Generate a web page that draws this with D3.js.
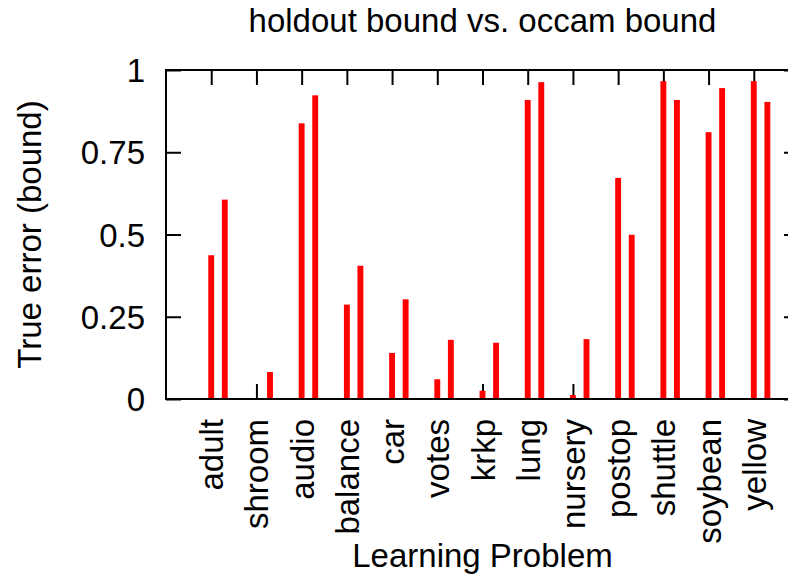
<!DOCTYPE html>
<html>
<head>
<meta charset="utf-8">
<script src="https://cdn.jsdelivr.net/npm/d3@7"></script>
<style>
    html, body { margin: 0; padding: 0; background: #fff; }
    text { font-family: "Liberation Sans", Arial, sans-serif; fill: #000; }
</style>
</head>
<body>
<div class="svg-target"></div>
<script>
// Chart data
const problems = ['adult', 'shroom', 'audio', 'balance', 'car', 'votes', 'krkp',
    'lung', 'nursery', 'postop', 'shuttle', 'soybean', 'yellow'];
const holdoutBound = [0.437, 0, 0.838, 0.287, 0.140, 0.060, 0.025,
    0.909, 0.012, 0.672, 0.966, 0.811, 0.966];
const occamBound = [0.606, 0.082, 0.923, 0.405, 0.303, 0.180, 0.171,
    0.963, 0.182, 0.499, 0.909, 0.945, 0.903];
const yTicks = [0, 0.25, 0.5, 0.75, 1];
const yTickLabels = ['0', '0.25', '0.5', '0.75', '1'];

const w = 788;
const h = 576;
const padding = {t: 70, r: -11, b: 177, l: 166};
const fontSize = 33;
const tickLen = 15;

const svg = d3.select('.svg-target')
    .append('svg')
    .attr('width', w)
    .attr('height', h);

// Scales
const xScale = d3.scaleLinear()
    .domain([0, problems.length + 1])
    .range([padding.l, w - padding.r]);
const yScale = d3.scaleLinear()
    .domain([0, 1])
    .range([h - padding.b, padding.t]);

const x0 = xScale.range()[0], x1 = xScale.range()[1];
const y0 = yScale.range()[0], y1 = yScale.range()[1];
const catPos = problems.map((d, i) => i + 1);

// Axes (ticks point inward, mirrored)
const styleAxis = g => {
    g.select('.domain').remove();
    g.selectAll('.tick line').attr('stroke', '#000').attr('stroke-width', 2);
    g.attr('font-size', null).attr('font-family', null);
};

svg.append('g')
    .attr('transform', `translate(${x0}, 0)`)
    .call(d3.axisLeft(yScale).tickValues(yTicks)
        .tickFormat((d, i) => yTickLabels[i])
        .tickSizeInner(-tickLen).tickSizeOuter(0).tickPadding(21))
    .call(styleAxis)
    .selectAll('text')
    .style('font-size', fontSize + 'px')
    .attr('dy', '0.35em');

svg.append('g')
    .attr('transform', `translate(${x1}, 0)`)
    .call(d3.axisRight(yScale).tickValues(yTicks).tickFormat('')
        .tickSizeInner(-tickLen).tickSizeOuter(0))
    .call(styleAxis);

svg.append('g')
    .attr('transform', `translate(0, ${y1})`)
    .call(d3.axisTop(xScale).tickValues(catPos).tickFormat('')
        .tickSizeInner(-tickLen).tickSizeOuter(0))
    .call(styleAxis);

svg.append('g')
    .attr('transform', `translate(0, ${y0})`)
    .call(d3.axisBottom(xScale).tickValues(catPos)
        .tickFormat((d, i) => problems[i])
        .tickSizeInner(-tickLen).tickSizeOuter(0))
    .call(styleAxis)
    .selectAll('text')
    .style('font-size', fontSize + 'px')
    .attr('text-anchor', 'end')
    .attr('transform', 'rotate(-90)')
    .attr('x', -20)
    .attr('y', 0)
    .attr('dy', '0.35em');

// Bars
const barW = xScale(0.13) - xScale(0);
const series = [
    {values: holdoutBound, offset: 0},
    {values: occamBound, offset: 0.3}
];
series.forEach(s => {
    svg.append('g')
        .selectAll('rect')
        .data(s.values)
        .join('rect')
        .attr('x', (d, i) => xScale(catPos[i] + s.offset) - barW / 2)
        .attr('y', d => yScale(d))
        .attr('width', barW)
        .attr('height', d => yScale(0) - yScale(d))
        .attr('fill', '#ff0000');
});

// Frame
svg.append('rect')
    .attr('x', x0)
    .attr('y', y1)
    .attr('width', x1 - x0)
    .attr('height', y0 - y1)
    .attr('fill', 'none')
    .attr('stroke', '#000')
    .attr('stroke-width', 2);

// Title and labels
svg.append('text')
    .attr('x', (x0 + x1) / 2)
    .attr('y', 32)
    .attr('text-anchor', 'middle')
    .style('font-size', fontSize + 'px')
    .text('holdout bound vs. occam bound');

svg.append('text')
    .attr('x', (x0 + x1) / 2)
    .attr('y', 567)
    .attr('text-anchor', 'middle')
    .style('font-size', fontSize + 'px')
    .text('Learning Problem');

svg.append('text')
    .attr('transform', `translate(41, ${(y0 + y1) / 2}) rotate(-90)`)
    .attr('text-anchor', 'middle')
    .style('font-size', fontSize + 'px')
    .text('True error (bound)');
</script>
</body>
</html>
